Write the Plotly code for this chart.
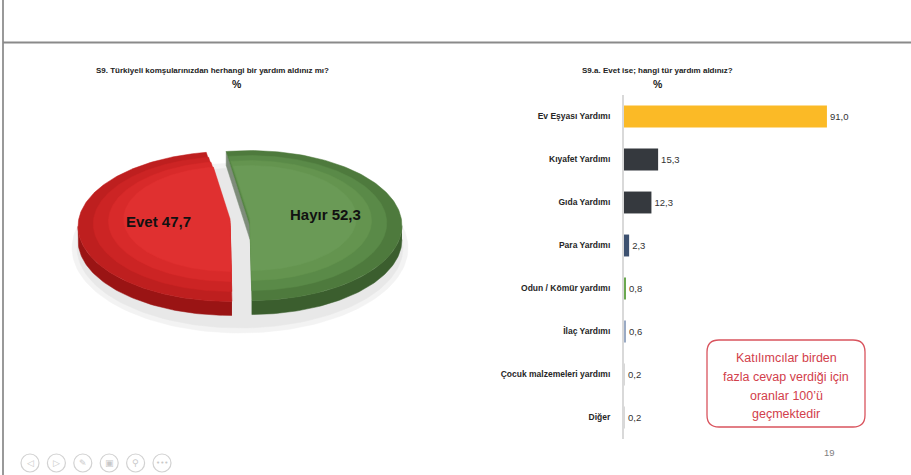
import numpy as np
import plotly.graph_objects as go

# ---------------- data ----------------
pie_labels = ["Hayır", "Evet"]
pie_values = [52.3, 47.7]

bar_categories = ["Ev Eşyası Yardımı", "Kıyafet Yardımı", "Gıda Yardımı", "Para Yardımı",
                  "Odun / Kömür yardımı", "İlaç Yardımı", "Çocuk malzemeleri yardımı", "Diğer"]
bar_values = [91.0, 15.3, 12.3, 2.3, 0.8, 0.6, 0.2, 0.2]

title_left = "S9. Türkiyeli komşularınızdan herhangi bir yardım aldınız mı?"
title_right = "S9.a. Evet ise; hangi tür yardım aldınız?"
note_lines = ["Katılımcılar birden", "fazla cevap verdiği için", "oranlar 100’ü", "geçmektedir"]
page_number = "19"

# ---------------- styles ----------------
W, H = 911, 475
FONT = "Liberation Sans"
# layered tones (outer -> inner) to imitate the shaded 3D surface
pie_top_layers = {"Hayır": ["#4E7A3D", "#5A8A48", "#64944F", "#6A9A56"],
                  "Evet": ["#BE1F1F", "#CC2424", "#D82A2A", "#E03030"]}
pie_side_colors = {"Hayır": "#3B5E2E", "Evet": "#9A1414"}
bar_colors = ["#FBBA26", "#35393E", "#35393E", "#3D5170", "#6AA84F", "#9AAAC4", "#D8D8D8", "#D8D8D8"]

cx, cy, rx, ry, depth = 240, 226, 152, 75, 14
start_angle = -9.0   # degrees, clockwise from 12 o'clock
pull = 10.0

fig = go.Figure()


def pt(theta_deg, r=1.0, dx=0.0, dy=0.0):
    t = np.radians(theta_deg)
    return cx + dx + r * rx * np.sin(t), cy + dy - r * ry * np.cos(t)


def add_poly(xs, ys, color, line_color=None, lw=0.5):
    fig.add_trace(go.Scatter(x=list(xs), y=list(ys), mode="lines", fill="toself",
                             fillcolor=color, line=dict(color=line_color or color, width=lw),
                             hoverinfo="skip", showlegend=False, xaxis="x", yaxis="y"))


# shadow
tt = np.linspace(0, 360, 181)
for grow, col in [(10, "#F3F3F3"), (5, "#E8E8E8")]:
    sx = cx + (rx + grow + 6) * np.sin(np.radians(tt))
    sy = cy + depth + 8 - (ry + grow) * np.cos(np.radians(tt))
    add_poly(sx, sy, col)

# slice geometry from data
total = sum(pie_values)
slices = []
a0 = start_angle
for lab, val in zip(pie_labels, pie_values):
    span = 360.0 * val / total
    a1 = a0 + span
    mid = (a0 + a1) / 2
    dx = pull * np.sin(np.radians(mid))
    dy = -pull * 0.5 * np.cos(np.radians(mid))
    slices.append(dict(label=lab, val=val, a0=a0, a1=a1, mid=mid, dx=dx, dy=dy))
    a0 = a1

# sides (front half only)
for s in slices:
    lo, hi = max(s["a0"], 90), min(s["a1"], 270)
    if hi > lo:
        th = np.linspace(lo, hi, 80)
        xs, ys = pt(th, 1, s["dx"], s["dy"])
        px = np.concatenate([xs, xs[::-1]])
        py = np.concatenate([ys, ys[::-1] + depth])
        add_poly(px, py, pie_side_colors[s["label"]])

# visible cut face of first slice
s0 = slices[0]
c0 = pt(0, 0, s0["dx"], s0["dy"])
r0 = pt(s0["a0"], 1, s0["dx"], s0["dy"])
add_poly([c0[0], r0[0], r0[0], c0[0]], [c0[1], r0[1], r0[1] + depth, c0[1] + depth], "#7E8C7A")

# top faces (layered sectors, shrinking toward an off-centre highlight)
for s in slices:
    c = pt(0, 0, s["dx"], s["dy"])
    layers = pie_top_layers[s["label"]]
    for k, col in enumerate(layers):
        r = 1.0 - 0.1 * k
        ddx = s["dx"] + (1 - r) * 40 * np.sin(np.radians(s["mid"])) * 0.2
        ddy = s["dy"] - (1 - r) * 30
        th = np.linspace(s["a0"], s["a1"], 160)
        xs, ys = pt(th, 1, s["dx"], s["dy"])
        # shrink toward the sector's inner point, keeping straight edges
        xs = c[0] + (xs - c[0]) * r
        ys = c[1] + (ys - c[1]) * r - (1 - r) * 25
        cy_shift = -(1 - r) * 25
        add_poly(np.concatenate([[c[0]], xs, [c[0]]]),
                 np.concatenate([[c[1] + cy_shift], ys, [c[1] + cy_shift]]), col)
    lx, ly = pt(s["mid"], 0.5, s["dx"], s["dy"])
    fig.add_annotation(x=lx + (4 if s["label"] == "Evet" else 0), y=ly - 8, xref="x", yref="y",
                       text=f"<b>{s['label']} {s['val']:.1f}</b>".replace(".", ","),
                       showarrow=False, font=dict(family=FONT, size=15, color="#111111"))

# ---------------- bars ----------------
fig.add_trace(go.Bar(
    x=bar_values, y=bar_categories, orientation="h",
    marker=dict(color=bar_colors, line=dict(width=0)),
    texttemplate="%{x:.1f}", textposition="outside", cliponaxis=False,
    textfont=dict(family=FONT, size=9.5, color="#333333"),
    xaxis="x2", yaxis="y2", showlegend=False, hoverinfo="skip"))

bar_left, bar_right = 624, 847
fig.update_layout(
    width=W, height=H, margin=dict(l=0, r=0, t=0, b=0),
    paper_bgcolor="white", plot_bgcolor="rgba(0,0,0,0)",
    separators=", ",
    bargap=0.49,
    xaxis=dict(domain=[0, 1], range=[0, W], visible=False, fixedrange=True),
    yaxis=dict(domain=[0, 1], range=[H, 0], visible=False, fixedrange=True),
    xaxis2=dict(domain=[bar_left / W, bar_right / W], range=[0, 100], visible=False,
                anchor="y2", showgrid=False, zeroline=False),
    yaxis2=dict(domain=[1 - 439 / H, 1 - 95 / H], anchor="x2", type="category",
                autorange="reversed", showline=True, linecolor="#D9D9D9", linewidth=2,
                ticks="", showgrid=False, ticklabelstandoff=10,
                tickfont=dict(family=FONT, size=8.5, color="#262626", weight="bold")),
)

# titles
for txt, x, in [(title_left, 212), (title_right, 657)]:
    fig.add_annotation(x=x, y=70, xref="x", yref="y", text=f"<b>{txt}</b>", showarrow=False,
                       font=dict(family=FONT, size=8, color="#222222"))
for x in [237, 658]:
    fig.add_annotation(x=x, y=84, xref="x", yref="y", text="<b>%</b>", showarrow=False,
                       font=dict(family=FONT, size=10.5, color="#222222"))

# note box
bx0, bx1, by0, by1, rr = 707, 865, 340, 427, 12
path = (f"M {bx0+rr},{by0} L {bx1-rr},{by0} Q {bx1},{by0} {bx1},{by0+rr} "
        f"L {bx1},{by1-rr} Q {bx1},{by1} {bx1-rr},{by1} L {bx0+rr},{by1} "
        f"Q {bx0},{by1} {bx0},{by1-rr} L {bx0},{by0+rr} Q {bx0},{by0} {bx0+rr},{by0} Z")
fig.add_shape(type="path", path=path, xref="x", yref="y",
              line=dict(color="#D9545E", width=1.3), fillcolor="white")
for i, line in enumerate(note_lines):
    fig.add_annotation(x=786, y=358 + i * 18.8, xref="x", yref="y", text=line, showarrow=False,
                       font=dict(family=FONT, size=12.5, color="#D2404B"))

# page frame
fig.add_shape(type="line", x0=3, x1=3, y0=0, y1=H, xref="x", yref="y",
              line=dict(color="#555555", width=1.2))
fig.add_shape(type="line", x0=3, x1=W, y0=42.5, y1=42.5, xref="x", yref="y",
              line=dict(color="#8A8A8A", width=2))
fig.add_annotation(x=829, y=452, xref="x", yref="y", text=page_number, showarrow=False,
                   font=dict(family=FONT, size=9.5, color="#7F7F7F"))

# bottom navigation icons
icons = ["◁", "▷", "✎", "▣", "⚲", "•••"]
for i, g in enumerate(icons):
    x = 30 + i * 26.4
    fig.add_shape(type="circle", x0=x - 9, x1=x + 9, y0=454, y1=472, xref="x", yref="y",
                  line=dict(color="#D2D2D2", width=1.2))
    fig.add_annotation(x=x, y=463, xref="x", yref="y", text=g, showarrow=False,
                       font=dict(family="DejaVu Sans", size=7 if i == 5 else 9, color="#C8C8C8"))

fig.write_html("out.html", config={"displayModeBar": False},
               post_script="document.body.style.margin='0';document.body.style.overflow='hidden';")
